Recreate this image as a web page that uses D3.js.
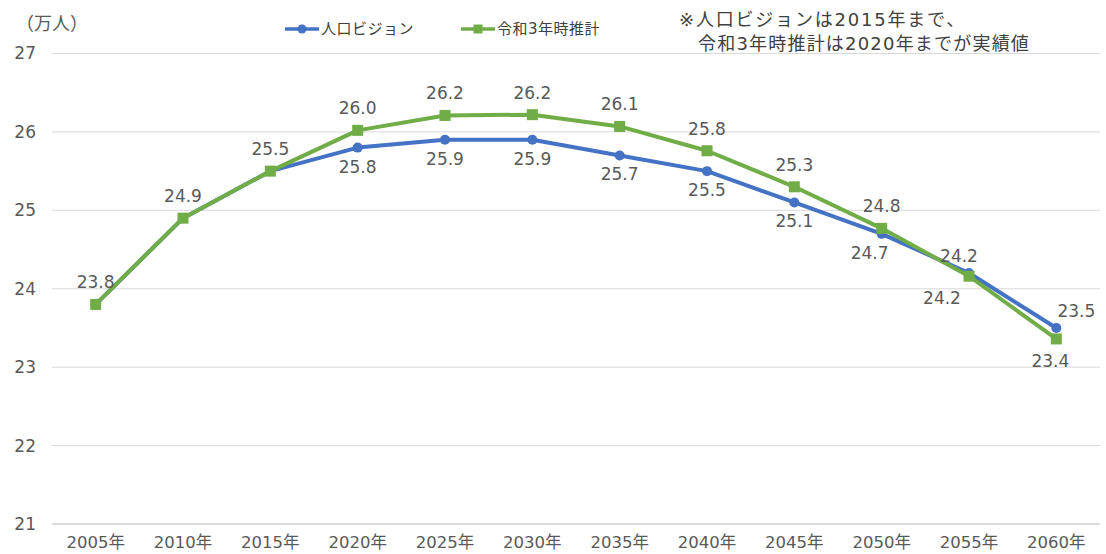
<!DOCTYPE html>
<html>
<head>
<meta charset="utf-8">
<script src="https://cdn.jsdelivr.net/npm/d3@7"></script>
<style>
  body { margin: 0; background: #fff; }
  text { font-family: "DejaVu Sans", "Noto Sans CJK JP", sans-serif; fill: #595959; }
</style>
</head>
<body>
<div id="chart"></div>
<script>
// categories and series
var years = ["2005年", "2010年", "2015年", "2020年", "2025年", "2030年", "2035年", "2040年", "2045年", "2050年", "2055年", "2060年"];
var vision = [23.8, 24.9, 25.5, 25.8, 25.9, 25.9, 25.7, 25.5, 25.1, 24.7, 24.2, 23.5];
var r3 = [23.8, 24.9, 25.5, 26.02, 26.21, 26.22, 26.07, 25.76, 25.3, 24.77, 24.16, 23.36];
var yTicks = [21, 22, 23, 24, 25, 26, 27];
var seriesNames = ["人口ビジョン", "令和3年時推計"];
var noteLines = ["※人口ビジョンは2015年まで、", "令和3年時推計は2020年までが実績値"];

var width = 1106, height = 554;
var margin = {top: 54, right: 6, bottom: 30, left: 52};

var svg = d3.select('#chart').append('svg')
  .attr('width', width)
  .attr('height', height);

var x = d3.scaleBand()
  .domain(years)
  .range([margin.left, width - margin.right]);

var y = d3.scaleLinear()
  .domain([21, 27])
  .range([524, 53.5]);

var cx = function(i) { return x(years[i]) + x.bandwidth() / 2; };

// gridlines
svg.append('g')
  .selectAll('line')
  .data(yTicks)
  .enter().append('line')
    .attr('x1', margin.left)
    .attr('x2', width - margin.right)
    .attr('y1', d => y(d))
    .attr('y2', d => y(d))
    .attr('stroke', d => d === 21 ? '#d0d0d0' : '#d9d9d9')
    .attr('stroke-width', d => d === 21 ? 1.5 : 1);

// y labels
svg.append('g')
  .selectAll('text')
  .data(yTicks)
  .enter().append('text')
    .attr('x', 36)
    .attr('y', d => y(d))
    .attr('dy', '0.35em')
    .attr('text-anchor', 'end')
    .style('font-size', '17px')
    .text(d => d);

// x labels
svg.append('g')
  .selectAll('text')
  .data(years)
  .enter().append('text')
    .attr('x', d => x(d) + x.bandwidth() / 2)
    .attr('y', 548)
    .attr('text-anchor', 'middle')
    .style('font-size', '16.5px')
    .text(d => d);

svg.append('text')
  .attr('x', 16)
  .attr('y', 30)
  .style('font-size', '18px')
  .text('（万人）');

var line = d3.line()
  .x((d, i) => cx(i))
  .y(d => y(d));

// blue series
svg.append('path')
  .datum(vision)
  .attr('fill', 'none')
  .attr('stroke', '#4472C4')
  .attr('stroke-width', 4)
  .attr('stroke-linejoin', 'round')
  .attr('d', line);

svg.append('g')
  .selectAll('circle')
  .data(vision)
  .enter().append('circle')
    .attr('cx', (d, i) => cx(i))
    .attr('cy', d => y(d))
    .attr('r', 5)
    .attr('fill', '#4472C4');

// green series
svg.append('path')
  .datum(r3)
  .attr('fill', 'none')
  .attr('stroke', '#70AD47')
  .attr('stroke-width', 4)
  .attr('stroke-linejoin', 'round')
  .attr('d', line);

svg.append('g')
  .selectAll('rect')
  .data(r3)
  .enter().append('rect')
    .attr('x', (d, i) => cx(i) - 5.5)
    .attr('y', d => y(d) - 5.5)
    .attr('width', 11)
    .attr('height', 11)
    .attr('fill', '#70AD47');

var fmt = d3.format('.1f');

// green labels above (first three shared points too)
svg.append('g')
  .selectAll('text')
  .data(r3.map((v, i) => ({v: v, i: i})))
  .enter().append('text')
    .attr('x', function(d) {
      if (d.i === 10) return cx(d.i) - 27;
      if (d.i === 11) return cx(d.i) - 6;
      return cx(d.i);
    })
    .attr('y', function(d) {
      if (d.i >= 10) return y(d.v) + 28;
      return y(d.v) - 16;
    })
    .attr('text-anchor', 'middle')
    .style('font-size', '17px')
    .text(d => fmt(d.v));

// blue labels below (skip shared points)
svg.append('g')
  .selectAll('text')
  .data(vision.map((v, i) => ({v: v, i: i})).filter(d => d.i > 2))
  .enter().append('text')
    .attr('x', function(d) {
      if (d.i === 9) return cx(d.i) - 12;
      if (d.i === 10) return cx(d.i) - 10;
      if (d.i === 11) return cx(d.i) + 20;
      return cx(d.i);
    })
    .attr('y', function(d) {
      if (d.i >= 10) return y(d.v) - 11;
      return y(d.v) + 25;
    })
    .attr('text-anchor', 'middle')
    .style('font-size', '17px')
    .text(d => fmt(d.v));

// legend
var colors = ['#4472C4', '#70AD47'];
var lx = [285, 461];
seriesNames.forEach(function(name, i) {
  var g = svg.append('g').attr('transform', 'translate(' + lx[i] + ',29)');
  g.append('line').attr('x1', 0).attr('x2', 34).attr('y1', 0).attr('y2', 0)
    .attr('stroke', colors[i]).attr('stroke-width', 3.5);
  if (i === 0) {
    g.append('circle').attr('cx', 17).attr('cy', 0).attr('r', 4.5).attr('fill', colors[i]);
  } else {
    g.append('rect').attr('x', 12.5).attr('y', -4.5).attr('width', 9).attr('height', 9).attr('fill', colors[i]);
  }
  g.append('text').attr('x', 36).attr('y', 0).attr('dy', '0.35em')
    .style('font-size', '15px').style('letter-spacing', '0.5px').style('fill', '#404040').text(name);
});

// note
svg.append('text').attr('x', 679).attr('y', 26)
  .style('font-size', '18px').style('letter-spacing', '1.8px').style('fill', '#404040').text(noteLines[0]);
svg.append('text').attr('x', 698).attr('y', 50)
  .style('font-size', '18px').style('letter-spacing', '1.2px').style('fill', '#404040').text(noteLines[1]);
</script>
</body>
</html>
